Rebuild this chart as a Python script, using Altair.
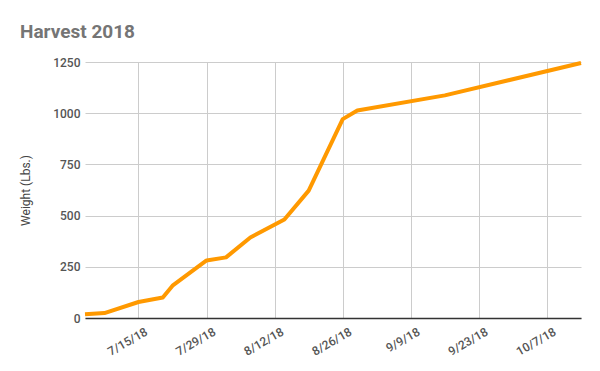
import altair as alt
import pandas as pd

dates = ["2018-07-04", "2018-07-08", "2018-07-15", "2018-07-20", "2018-07-22",
         "2018-07-29", "2018-08-02", "2018-08-07", "2018-08-14", "2018-08-19",
         "2018-08-26", "2018-08-29", "2018-09-16", "2018-10-14"]
weights = [18, 24, 78, 100, 158, 281, 296, 393, 481, 622, 971, 1013, 1087, 1245]
tick_dates = [(2018, 7, 15), (2018, 7, 29), (2018, 8, 12), (2018, 8, 26),
              (2018, 9, 9), (2018, 9, 23), (2018, 10, 7)]

df = pd.DataFrame({"date": [d + "T00:00:00Z" for d in dates], "weight": weights})

tick_vals = [alt.DateTime(year=y, month=m, date=d, utc=True) for (y, m, d) in tick_dates]

chart = alt.Chart(df).mark_line(color="#FF9900", strokeWidth=4, strokeJoin="round").encode(
    x=alt.X("date:T",
            scale=alt.Scale(type="utc", nice=False,
                            domain=[alt.DateTime(year=2018, month=7, date=4, utc=True),
                                    alt.DateTime(year=2018, month=10, date=14, utc=True)]),
            axis=alt.Axis(title=None, values=tick_vals, format="%-m/%-d/%y",
                          labelAngle=-30, labelAlign="right", labelBaseline="top",
                          labelFont="Roboto", labelFontSize=12, labelColor="#555555",
                          labelFontWeight=500, labelOffset=5,
                          grid=True, gridColor="#cccccc", ticks=False,
                          domainColor="#333333", domainWidth=1.5, labelPadding=8)),
    y=alt.Y("weight:Q",
            scale=alt.Scale(domain=[0, 1250], nice=False),
            axis=alt.Axis(title="Weight (Lbs.)", values=[0, 250, 500, 750, 1000, 1250],
                          format="d",
                          labelFont="Roboto", labelFontSize=12, labelColor="#555555",
                          labelFontWeight=500,
                          titleFont="Roboto", titleFontSize=12, titleColor="#444444",
                          titleFontWeight="normal", titlePadding=20,
                          grid=True, gridColor="#cccccc", ticks=False, domain=False,
                          labelPadding=5)),
).properties(
    width=496, height=256,
    title=alt.TitleParams("Harvest 2018", anchor="start", frame="group", dx=-65,
                          font="Roboto", fontSize=19, fontWeight="bold",
                          color="#757575", offset=14),
    autosize=alt.AutoSizeParams(type="none"),
    padding={"left": 85, "top": 62, "right": 19, "bottom": 53},
).configure_view(stroke=None)

chart.save("out.html", embed_options={"renderer": "svg", "actions": False})
